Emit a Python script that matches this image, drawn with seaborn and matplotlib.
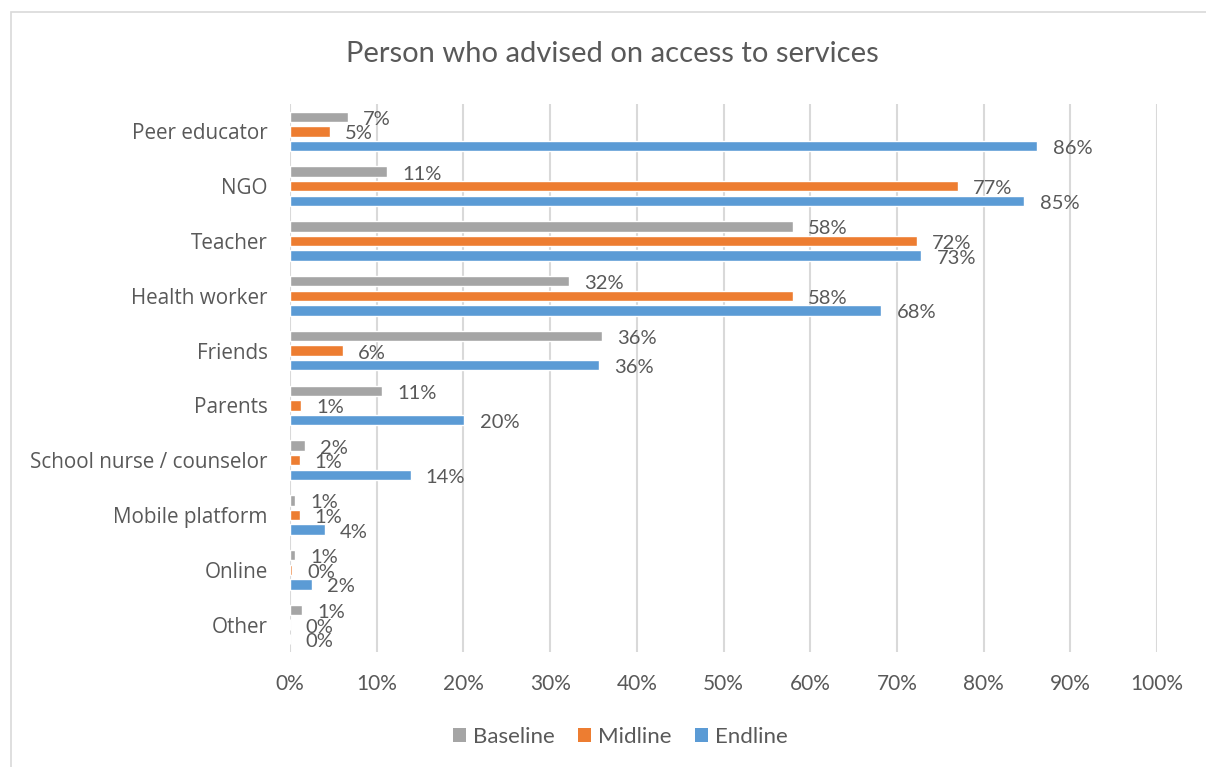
import matplotlib
matplotlib.use("Agg")
import matplotlib.pyplot as plt
import seaborn as sns
import pandas as pd
from matplotlib.patches import Rectangle, Patch

# Share of respondents (%) naming each person as the one who advised on access
categories = ["Peer educator", "NGO", "Teacher", "Health worker", "Friends",
              "Parents", "School nurse / counselor", "Mobile platform", "Online", "Other"]
baseline = [6.7, 11.2, 58.0, 32.2, 36.0, 10.6, 1.7, 0.6, 0.6, 1.4]
midline = [4.6, 77.0, 72.3, 58.0, 6.1, 1.3, 1.1, 1.1, 0.2, 0.0]
endline = [86.2, 84.7, 72.8, 68.2, 35.6, 20.1, 13.9, 4.0, 2.5, 0.0]
series = ["Baseline", "Midline", "Endline"]
colors = ["#A5A5A5", "#ED7D31", "#5B9BD5"]
xticks = [0, 10, 20, 30, 40, 50, 60, 70, 80, 90, 100]
xtick_labels = [f"{t}%" for t in xticks]

rows = []
for name, vals in zip(series, [baseline, midline, endline]):
    for cat, v in zip(categories, vals):
        rows.append({"category": cat, "wave": name, "value": v})
df = pd.DataFrame(rows)

sns.set_theme(style="white")
label_font = ["Open Sans", "DejaVu Sans"]
narrow_font = ["Lato", "DejaVu Sans"]
text_color = "#595959"

fig = plt.figure(figsize=(12.06, 7.67), dpi=100)
ax = fig.add_axes([290 / 1206, 1 - 652 / 767, (1157 - 290) / 1206, (652 - 104) / 767])

sns.barplot(data=df, y="category", x="value", hue="wave", order=categories,
            hue_order=series, palette=colors, orient="h", width=0.8, gap=0.28,
            saturation=1, ax=ax, legend=False)

ax.set_xlim(0, 100)
ax.set_xticks(xticks)
ax.set_xticklabels(xtick_labels, fontsize=15, color=text_color, family=narrow_font)
ax.tick_params(axis="x", length=0, pad=16)
ax.tick_params(axis="y", length=0, pad=16)
for lbl in ax.get_yticklabels():
    lbl.set_fontsize(14.9)
    lbl.set_color(text_color)
    lbl.set_family(label_font)
ax.set_xlabel("")
ax.set_ylabel("")
ax.grid(axis="x", color="#D9D9D9", linewidth=1.5)
ax.set_axisbelow(True)
for s in ax.spines.values():
    s.set_visible(False)

# value labels just past the end of each bar, sitting slightly low
for container in ax.containers:
    anns = ax.bar_label(container, labels=[f"{b.get_width():.0f}%" for b in container],
                        padding=11, fontsize=14.5, color=text_color, family=narrow_font)
    for a in anns:
        a.xyann = (11, -1.8)

fig.text(612 / 1206, 1 - 54 / 767, "Person who advised on access to services",
         ha="center", va="center", fontsize=21, color=text_color, family=narrow_font)

handles = [Patch(facecolor=c, edgecolor="none") for c in colors]
fig.legend(handles, series, loc="center", bbox_to_anchor=(620 / 1206, 1 - 737 / 767),
           ncol=3, frameon=False, handlelength=0.6, handleheight=0.6,
           handletextpad=0.3, columnspacing=1.05, labelcolor=text_color,
           prop={"family": narrow_font, "size": 16})

# chart-area outline
fig.patches.append(Rectangle((11 / 1206, -0.1), 1.2, 1 - 12 / 767 + 0.1,
                             transform=fig.transFigure, fill=False,
                             edgecolor="#D9D9D9", linewidth=1.2))

fig.savefig("out.png", dpi=100, facecolor="white")
